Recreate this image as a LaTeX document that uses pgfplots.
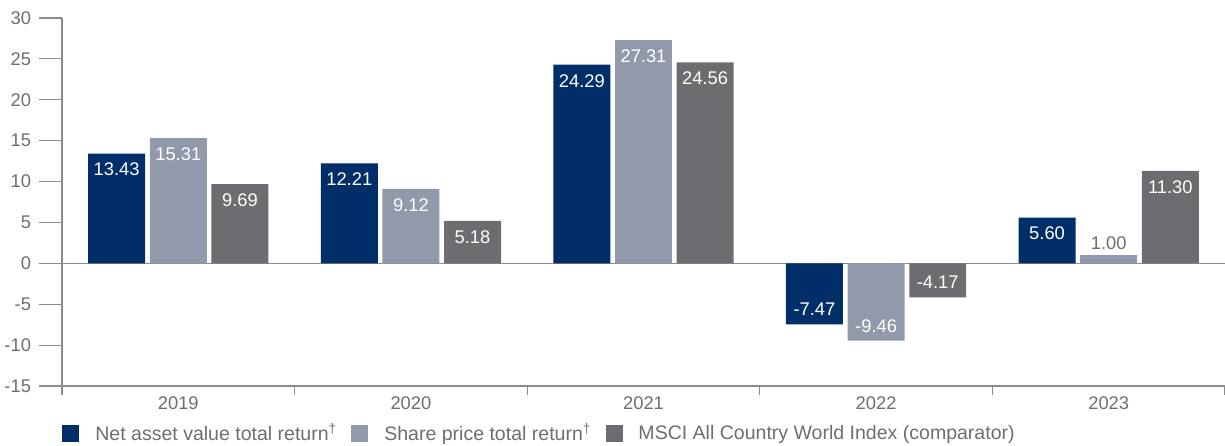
\documentclass[border=0pt]{standalone}
\usepackage{fontspec}
\setmainfont{Liberation Sans}
\usepackage{pgfplots}
\usepackage{pgfplotstable}
\pgfplotsset{compat=1.18}

\definecolor{nav}{RGB}{0,46,105}
\definecolor{share}{RGB}{146,153,171}
\definecolor{msci}{RGB}{108,109,113}
\definecolor{txt}{RGB}{110,110,110}
\definecolor{axisgray}{RGB}{140,140,140}

% x = category index, dy = label offset from bar end (bp), tc = 0 white label, 100 grey label
\pgfplotstableread{
x y lab dy tc
0 13.43 13.43 -8 0
1 12.21 12.21 -8 0
2 24.29 24.29 -8 0
3 -7.47 -7.47 7.5 0
4 5.60 5.60 -8 0
}\navdata

\pgfplotstableread{
x y lab dy tc
0 15.31 15.31 -8 0
1 9.12 9.12 -8 0
2 27.31 27.31 -8 0
3 -9.46 -9.46 7.5 0
4 1.00 1.00 6 100
}\sharedata

\pgfplotstableread{
x y lab dy tc
0 9.69 9.69 -8 0
1 5.18 5.18 -8 0
2 24.56 24.56 -8 0
3 -4.17 -4.17 7.5 0
4 11.30 11.30 -8 0
}\mscidata

\begin{document}
\begin{tikzpicture}
\begin{axis}[
    scale only axis,
    width=581.5bp, height=184bp,
    xmin=-0.5, xmax=4.5, ymin=-15, ymax=30,
    ybar, bar width=0.245,
    axis lines*=left,
    axis line style={axisgray, line width=0.6bp},
    ytick={-15,-10,...,30},
    xtick={0,...,4},
    xticklabels={2019,2020,2021,2022,2023},
    every major x tick/.append style={draw=none},
    minor xtick={-0.5,0.5,...,4.5},
    minor tick length=4.5bp,
    major tick length=11.5bp,
    tick align=outside,
    tick style={axisgray, line width=0.6bp},
    tick label style={font=\fontsize{9.2}{10}\selectfont, text=txt},
    /pgf/number format/assume math mode=true,
    yticklabel style={xshift=-0.5bp},
    xticklabel style={yshift=9.5bp},
    extra y ticks={0}, extra y tick labels={},
    extra y tick style={grid=major, major grid style={axisgray, line width=0.6bp}},
    point meta=explicit symbolic,
    nodes near coords,
    visualization depends on={\thisrow{dy} \as \dy},
    visualization depends on={\thisrow{tc} \as \tcv},
    every node near coord/.append style={anchor=center, yshift=\dy bp, text=txt!\tcv!white,
        font=\fontsize{9.2}{10}\selectfont},
    legend style={draw=none, fill=none, at={(0,0)}, anchor=north west,
        yshift=-16.5bp, inner sep=0pt, legend columns=-1,
        font=\fontsize{9.8}{11}\selectfont, text=txt,
        /tikz/every even column/.append style={column sep=5bp}},
    legend image code/.code={\fill[#1] (0bp,-4.25bp) rectangle (8.5bp,4.25bp); \path (14.5bp,0bp);},
]
\addplot[fill=nav, draw=none, bar shift=-0.265] table[x=x, y=y, meta=lab] {\navdata};
\addplot[fill=share, draw=none, bar shift=0] table[x=x, y=y, meta=lab] {\sharedata};
\addplot[fill=msci, draw=none, bar shift=0.265] table[x=x, y=y, meta=lab] {\mscidata};
\legend{Net asset value total return\textsuperscript{†}, Share price total return\textsuperscript{†}, MSCI All Country World Index (comparator)}
\end{axis}
\pgfresetboundingbox
\useasboundingbox ([xshift=-31bp, yshift=-30bp]current axis.south west) rectangle ([yshift=9bp]current axis.north east);
\end{tikzpicture}
\end{document}
